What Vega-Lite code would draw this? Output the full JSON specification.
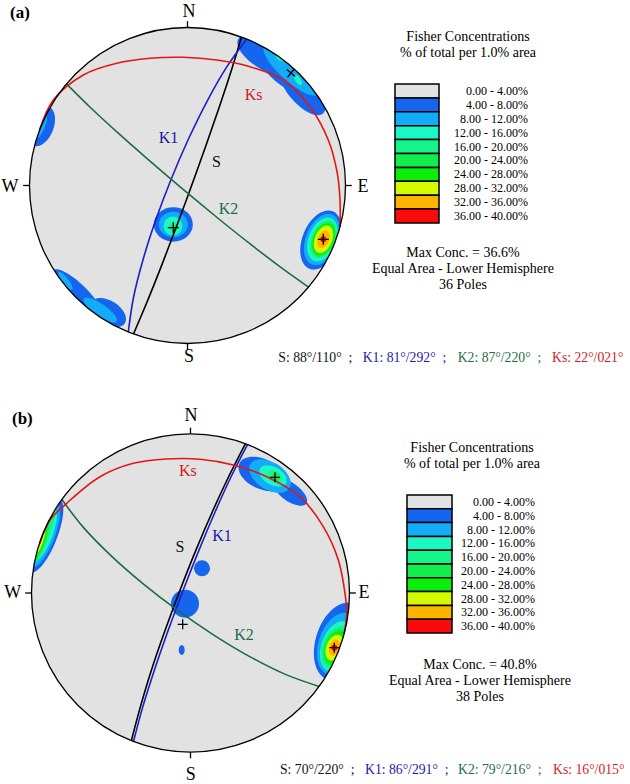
{
"$schema": "https://vega.github.io/schema/vega-lite/v6.json",
"padding": 0,
"spacing": 0,
"bounds": "flush",
"config": {"view": {"stroke": null}, "font": "Liberation Serif"},
"resolve": {"scale": {"x": "independent", "y": "independent", "fill": "independent", "stroke": "independent", "color": "independent", "size": "independent", "shape": "independent"}},
"datasets": {
"levels": [
{"lv":"0.00 - 4.00%"},{"lv":"4.00 - 8.00%"},{"lv":"8.00 - 12.00%"},{"lv":"12.00 - 16.00%"},{"lv":"16.00 - 20.00%"},
{"lv":"20.00 - 24.00%"},{"lv":"24.00 - 28.00%"},{"lv":"28.00 - 32.00%"},{"lv":"32.00 - 36.00%"},{"lv":"36.00 - 40.00%"}
],
"blobs": [
{"net":"a","lv":"4.00 - 8.00%","u":0.4954,"v":0.8246,"len":0.405,"f":"e2","ang":31},
{"net":"a","lv":"4.00 - 8.00%","u":0.6103,"v":0.7272,"len":0.38,"f":"e2","ang":40},
{"net":"a","lv":"4.00 - 8.00%","u":0.7273,"v":0.6103,"len":0.405,"f":"e2","ang":50},
{"net":"a","lv":"4.00 - 8.00%","u":-0.9272,"v":0.3746,"len":0.266,"f":"e","ang":112},
{"net":"a","lv":"4.00 - 8.00%","u":-0.6937,"v":-0.6937,"len":0.443,"f":"e3","ang":45},
{"net":"a","lv":"4.00 - 8.00%","u":-0.5031,"v":-0.8051,"len":0.253,"f":"e","ang":32},
{"net":"a","lv":"4.00 - 8.00%","u":-0.0899,"v":-0.2468,"len":0.247,"f":"e9","ang":0},
{"net":"a","lv":"4.00 - 8.00%","u":0.8449,"v":-0.3449,"len":0.392,"f":"e","ang":112},
{"net":"b","lv":"4.00 - 8.00%","u":0.4497,"v":0.7484,"len":0.314,"f":"e","ang":25},
{"net":"b","lv":"4.00 - 8.00%","u":0.6258,"v":0.6352,"len":0.252,"f":"e2","ang":35},
{"net":"b","lv":"4.00 - 8.00%","u":-0.9128,"v":0.3596,"len":0.491,"f":"e3","ang":111.5},
{"net":"b","lv":"4.00 - 8.00%","u":0.0723,"v":0.1553,"len":0.101,"f":"c","ang":0},
{"net":"b","lv":"4.00 - 8.00%","u":-0.0346,"v":-0.0673,"len":0.176,"f":"c","ang":0},
{"net":"b","lv":"4.00 - 8.00%","u":-0.0553,"v":-0.3585,"len":0.063,"f":"e","ang":90},
{"net":"b","lv":"4.00 - 8.00%","u":0.9391,"v":-0.3051,"len":0.503,"f":"e","ang":108},
{"net":"a","lv":"8.00 - 12.00%","u":0.6564,"v":0.729,"len":0.456,"f":"e3","ang":42},
{"net":"a","lv":"8.00 - 12.00%","u":-0.9272,"v":0.3746,"len":0.165,"f":"e3","ang":112},
{"net":"a","lv":"8.00 - 12.00%","u":-0.5518,"v":-0.7881,"len":0.253,"f":"e3","ang":35},
{"net":"a","lv":"8.00 - 12.00%","u":-0.773,"v":-0.604,"len":0.139,"f":"e3","ang":52},
{"net":"a","lv":"8.00 - 12.00%","u":-0.0899,"v":-0.2468,"len":0.184,"f":"e9","ang":0},
{"net":"a","lv":"8.00 - 12.00%","u":0.8513,"v":-0.3418,"len":0.342,"f":"e","ang":112},
{"net":"b","lv":"8.00 - 12.00%","u":0.5,"v":0.7358,"len":0.289,"f":"e","ang":32},
{"net":"b","lv":"8.00 - 12.00%","u":-0.9187,"v":0.3619,"len":0.428,"f":"e3","ang":111.5},
{"net":"b","lv":"8.00 - 12.00%","u":0.9277,"v":-0.3194,"len":0.403,"f":"e","ang":109},
{"net":"a","lv":"12.00 - 16.00%","u":0.5854,"v":0.807,"len":0.063,"f":"e2","ang":35},
{"net":"a","lv":"12.00 - 16.00%","u":0.6994,"v":0.6677,"len":0.076,"f":"e2","ang":55},
{"net":"a","lv":"12.00 - 16.00%","u":-0.0918,"v":-0.2563,"len":0.12,"f":"c","ang":0},
{"net":"a","lv":"12.00 - 16.00%","u":0.8544,"v":-0.3418,"len":0.291,"f":"e","ang":112},
{"net":"b","lv":"12.00 - 16.00%","u":0.5189,"v":0.7358,"len":0.189,"f":"e","ang":30},
{"net":"b","lv":"12.00 - 16.00%","u":-0.9246,"v":0.3642,"len":0.365,"f":"e3","ang":111.5},
{"net":"b","lv":"12.00 - 16.00%","u":0.922,"v":-0.3356,"len":0.327,"f":"e","ang":110},
{"net":"a","lv":"16.00 - 20.00%","u":-0.0886,"v":-0.2627,"len":0.057,"f":"c","ang":0},
{"net":"a","lv":"16.00 - 20.00%","u":0.8608,"v":-0.3405,"len":0.253,"f":"e","ang":112},
{"net":"b","lv":"16.00 - 20.00%","u":0.5314,"v":0.7358,"len":0.101,"f":"e","ang":30},
{"net":"b","lv":"16.00 - 20.00%","u":-0.9187,"v":0.3619,"len":0.314,"f":"e4","ang":111.5},
{"net":"b","lv":"16.00 - 20.00%","u":0.9131,"v":-0.3414,"len":0.277,"f":"e","ang":110.5},
{"net":"a","lv":"20.00 - 24.00%","u":0.8608,"v":-0.3405,"len":0.228,"f":"e","ang":112},
{"net":"b","lv":"20.00 - 24.00%","u":0.5377,"v":0.7296,"len":0.05,"f":"c","ang":0},
{"net":"b","lv":"20.00 - 24.00%","u":-0.9395,"v":0.3235,"len":0.277,"f":"e4","ang":109},
{"net":"b","lv":"20.00 - 24.00%","u":0.9131,"v":-0.3414,"len":0.239,"f":"e","ang":110.5},
{"net":"a","lv":"24.00 - 28.00%","u":0.8608,"v":-0.3405,"len":0.209,"f":"e","ang":112},
{"net":"b","lv":"24.00 - 28.00%","u":-0.9455,"v":0.3256,"len":0.239,"f":"e4","ang":109},
{"net":"b","lv":"24.00 - 28.00%","u":0.9131,"v":-0.3414,"len":0.208,"f":"e","ang":110.5},
{"net":"a","lv":"28.00 - 32.00%","u":0.8608,"v":-0.3405,"len":0.184,"f":"e","ang":112},
{"net":"b","lv":"28.00 - 32.00%","u":-0.9455,"v":0.3256,"len":0.176,"f":"e4","ang":109},
{"net":"b","lv":"28.00 - 32.00%","u":0.9049,"v":-0.3437,"len":0.17,"f":"e","ang":110.8},
{"net":"a","lv":"32.00 - 36.00%","u":0.8608,"v":-0.3405,"len":0.12,"f":"e","ang":112},
{"net":"b","lv":"32.00 - 36.00%","u":-0.9515,"v":0.3277,"len":0.126,"f":"e4","ang":109},
{"net":"b","lv":"32.00 - 36.00%","u":0.9049,"v":-0.3437,"len":0.107,"f":"e","ang":110.8},
{"net":"a","lv":"36.00 - 40.00%","u":0.8595,"v":-0.3405,"len":0.038,"f":"c","ang":0},
{"net":"b","lv":"36.00 - 40.00%","u":-0.9515,"v":0.3277,"len":0.075,"f":"e4","ang":109},
{"net":"b","lv":"36.00 - 40.00%","u":0.9049,"v":-0.3437,"len":0.038,"f":"c","ang":0}
],
"gc": [
{"net":"a","pl":"S","p":0,"u":0.342,"v":0.94},
{"net":"a","pl":"S","p":1,"u":0.2794,"v":0.7345},
{"net":"a","pl":"S","p":2,"u":0.2029,"v":0.5022},
{"net":"a","pl":"S","p":3,"u":0.1162,"v":0.2514},
{"net":"a","pl":"S","p":4,"u":0.0232,"v":-0.0084},
{"net":"a","pl":"S","p":5,"u":-0.0725,"v":-0.2672},
{"net":"a","pl":"S","p":6,"u":-0.1673,"v":-0.5151},
{"net":"a","pl":"S","p":7,"u":-0.2581,"v":-0.7423},
{"net":"a","pl":"S","p":8,"u":-0.342,"v":-0.94},
{"net":"a","pl":"K1","p":0,"u":-0.3746,"v":-0.9272},
{"net":"a","pl":"K1","p":1,"u":-0.3421,"v":-0.7106},
{"net":"a","pl":"K1","p":2,"u":-0.2819,"v":-0.4713},
{"net":"a","pl":"K1","p":3,"u":-0.2006,"v":-0.2174},
{"net":"a","pl":"K1","p":4,"u":-0.1028,"v":0.0416},
{"net":"a","pl":"K1","p":5,"u":0.0068,"v":0.2957},
{"net":"a","pl":"K1","p":6,"u":0.1246,"v":0.5348},
{"net":"a","pl":"K1","p":7,"u":0.2476,"v":0.7488},
{"net":"a","pl":"K1","p":8,"u":0.3746,"v":0.9272},
{"net":"a","pl":"K2","p":0,"u":0.766,"v":-0.6428},
{"net":"a","pl":"K2","p":1,"u":0.591,"v":-0.5182},
{"net":"a","pl":"K2","p":2,"u":0.3964,"v":-0.3697},
{"net":"a","pl":"K2","p":3,"u":0.189,"v":-0.2041},
{"net":"a","pl":"K2","p":4,"u":-0.0238,"v":-0.0284},
{"net":"a","pl":"K2","p":5,"u":-0.2337,"v":0.1507},
{"net":"a","pl":"K2","p":6,"u":-0.4329,"v":0.3262},
{"net":"a","pl":"K2","p":7,"u":-0.6129,"v":0.4921},
{"net":"a","pl":"K2","p":8,"u":-0.766,"v":0.6428},
{"net":"a","pl":"Ks","p":0,"u":-0.9375,"v":0.3488},
{"net":"a","pl":"Ks","p":1,"u":-0.8494,"v":0.5411},
{"net":"a","pl":"Ks","p":2,"u":-0.6595,"v":0.6994},
{"net":"a","pl":"Ks","p":3,"u":-0.4481,"v":0.7734},
{"net":"a","pl":"Ks","p":4,"u":-0.2373,"v":0.8051},
{"net":"a","pl":"Ks","p":5,"u":-0.0266,"v":0.8114},
{"net":"a","pl":"Ks","p":6,"u":0.1848,"v":0.7943},
{"net":"a","pl":"Ks","p":7,"u":0.3956,"v":0.7519},
{"net":"a","pl":"Ks","p":8,"u":0.6063,"v":0.6677},
{"net":"a","pl":"Ks","p":9,"u":0.7753,"v":0.4987},
{"net":"a","pl":"Ks","p":10,"u":0.8911,"v":0.288},
{"net":"a","pl":"Ks","p":11,"u":0.9481,"v":0.0772},
{"net":"a","pl":"Ks","p":12,"u":0.9652,"v":-0.0918},
{"net":"a","pl":"Ks","p":13,"u":0.9655,"v":-0.2608},
{"net":"b","pl":"S","p":0,"u":-0.372,"v":-0.929},
{"net":"b","pl":"S","p":1,"u":-0.318,"v":-0.7256},
{"net":"b","pl":"S","p":2,"u":-0.248,"v":-0.492},
{"net":"b","pl":"S","p":3,"u":-0.162,"v":-0.2411},
{"net":"b","pl":"S","p":4,"u":-0.066,"v":0.0177},
{"net":"b","pl":"S","p":5,"u":0.036,"v":0.2744},
{"net":"b","pl":"S","p":6,"u":0.141,"v":0.5191},
{"net":"b","pl":"S","p":7,"u":0.245,"v":0.742},
{"net":"b","pl":"S","p":8,"u":0.345,"v":0.9386},
{"net":"b","pl":"K1","p":0,"u":-0.3584,"v":-0.9336},
{"net":"b","pl":"K1","p":1,"u":-0.3029,"v":-0.7256},
{"net":"b","pl":"K1","p":2,"u":-0.2293,"v":-0.492},
{"net":"b","pl":"K1","p":3,"u":-0.1424,"v":-0.2411},
{"net":"b","pl":"K1","p":4,"u":-0.0461,"v":0.0177},
{"net":"b","pl":"K1","p":5,"u":0.0555,"v":0.2744},
{"net":"b","pl":"K1","p":6,"u":0.1587,"v":0.5191},
{"net":"b","pl":"K1","p":7,"u":0.2604,"v":0.742},
{"net":"b","pl":"K1","p":8,"u":0.3584,"v":0.9336},
{"net":"b","pl":"K2","p":0,"u":0.809,"v":-0.5878},
{"net":"b","pl":"K2","p":1,"u":0.6006,"v":-0.5134},
{"net":"b","pl":"K2","p":2,"u":0.3785,"v":-0.4032},
{"net":"b","pl":"K2","p":3,"u":0.1491,"v":-0.2661},
{"net":"b","pl":"K2","p":4,"u":-0.0797,"v":-0.1097},
{"net":"b","pl":"K2","p":5,"u":-0.2993,"v":0.0596},
{"net":"b","pl":"K2","p":6,"u":-0.5004,"v":0.2354},
{"net":"b","pl":"K2","p":7,"u":-0.6738,"v":0.4127},
{"net":"b","pl":"K2","p":8,"u":-0.809,"v":0.5878},
{"net":"b","pl":"Ks","p":0,"u":-0.9507,"v":0.3105},
{"net":"b","pl":"Ks","p":1,"u":-0.8836,"v":0.4591},
{"net":"b","pl":"Ks","p":2,"u":-0.7786,"v":0.5642},
{"net":"b","pl":"Ks","p":3,"u":-0.5692,"v":0.7314},
{"net":"b","pl":"Ks","p":4,"u":-0.3597,"v":0.8157},
{"net":"b","pl":"Ks","p":5,"u":-0.1497,"v":0.8428},
{"net":"b","pl":"Ks","p":6,"u":0.0597,"v":0.8409},
{"net":"b","pl":"Ks","p":7,"u":0.2692,"v":0.805},
{"net":"b","pl":"Ks","p":8,"u":0.4792,"v":0.7314},
{"net":"b","pl":"Ks","p":9,"u":0.6887,"v":0.6057},
{"net":"b","pl":"Ks","p":10,"u":0.8352,"v":0.417},
{"net":"b","pl":"Ks","p":11,"u":0.9296,"v":0.2075},
{"net":"b","pl":"Ks","p":12,"u":0.9717,"v":-0.0019},
{"net":"b","pl":"Ks","p":13,"u":0.9824,"v":-0.1277},
{"net":"b","pl":"Ks","p":14,"u":0.9659,"v":-0.2588}
],
"ticks": [
{"net":"a","u":0,"v":1,"u2":0,"v2":1.04},
{"net":"a","u":0,"v":-1,"u2":0,"v2":-1.04},
{"net":"a","u":1,"v":0,"u2":1.04,"v2":0},
{"net":"a","u":-1,"v":0,"u2":-1.04,"v2":0},
{"net":"b","u":0,"v":1,"u2":0,"v2":1.04},
{"net":"b","u":0,"v":-1,"u2":0,"v2":-1.04},
{"net":"b","u":1,"v":0,"u2":1.04,"v2":0},
{"net":"b","u":-1,"v":0,"u2":-1.04,"v2":0}
],
"crosses": [
{"net":"a","u":0.6551,"v":0.712,"ang":40},
{"net":"a","u":-0.0899,"v":-0.2671,"ang":0},
{"net":"a","u":0.8595,"v":-0.3405,"ang":0},
{"net":"b","u":0.5314,"v":0.7277,"ang":0},
{"net":"b","u":-0.0491,"v":-0.1969,"ang":0},
{"net":"b","u":0.9044,"v":-0.344,"ang":0}
],
"labels": [
{"net":"a","k":"dir","t":"N","u":0.01,"v":1.098,"c":"k"},
{"net":"a","k":"dir","t":"S","u":0.01,"v":-1.085,"c":"k"},
{"net":"a","k":"dir","t":"W","u":-1.123,"v":-0.01,"c":"k"},
{"net":"a","k":"dir","t":"E","u":1.111,"v":-0.01,"c":"k"},
{"net":"b","k":"dir","t":"N","u":0.003,"v":1.113,"c":"k"},
{"net":"b","k":"dir","t":"S","u":0.001,"v":-1.145,"c":"k"},
{"net":"b","k":"dir","t":"W","u":-1.118,"v":0,"c":"k"},
{"net":"b","k":"dir","t":"E","u":1.091,"v":0,"c":"k"},
{"net":"a","k":"gc","t":"Ks","u":0.418,"v":0.573,"c":"Ks"},
{"net":"a","k":"gc","t":"K1","u":-0.12,"v":0.301,"c":"K1"},
{"net":"a","k":"gc","t":"S","u":0.184,"v":0.149,"c":"S"},
{"net":"a","k":"gc","t":"K2","u":0.259,"v":-0.149,"c":"K2"},
{"net":"b","k":"gc","t":"Ks","u":-0.016,"v":0.767,"c":"Ks"},
{"net":"b","k":"gc","t":"K1","u":0.198,"v":0.358,"c":"K1"},
{"net":"b","k":"gc","t":"S","u":-0.066,"v":0.289,"c":"S"},
{"net":"b","k":"gc","t":"K2","u":0.336,"v":-0.264,"c":"K2"},
{"net":"a","k":"tag","t":"(a)","u":-1.1234,"v":1.0918,"c":"k"},
{"net":"b","k":"tag","t":"(b)","u":-1.1226,"v":1.0943,"c":"k"},
{"net":"a","k":"cap","t":"S: 88°/110°\u00a0\u00a0;","u":0.5747,"v":-1.0918,"c":"S"},
{"net":"a","k":"cap","t":"K1: 81°/292°\u00a0\u00a0;","u":1.1089,"v":-1.0918,"c":"K1"},
{"net":"a","k":"cap","t":"K2: 87°/220°\u00a0\u00a0;","u":1.7101,"v":-1.0918,"c":"K2"},
{"net":"a","k":"cap","t":"Ks: 22°/021°","u":2.307,"v":-1.0918,"c":"Ks"},
{"net":"b","k":"cap","t":"S: 70°/220°\u00a0\u00a0;","u":0.5629,"v":-1.1132,"c":"S"},
{"net":"b","k":"cap","t":"K1: 86°/291°\u00a0\u00a0;","u":1.0975,"v":-1.1132,"c":"K1"},
{"net":"b","k":"cap","t":"K2: 79°/216°\u00a0\u00a0;","u":1.6824,"v":-1.1132,"c":"K2"},
{"net":"b","k":"cap","t":"Ks: 16°/015°","u":2.2799,"v":-1.1132,"c":"Ks"},
{"net":"a","k":"blk","t":"Fisher Concentrations\n% of total per 1.0% area","u":1.7753,"v":0.9399,"c":"k"},
{"net":"a","k":"blk","t":"Max Conc. = 36.6%\nEqual Area - Lower Hemisphere\n36 Poles","u":1.7437,"v":-0.4272,"c":"k"},
{"net":"b","k":"blk","t":"Fisher Concentrations\n% of total per 1.0% area","u":1.7704,"v":0.9119,"c":"k"},
{"net":"b","k":"blk","t":"Max Conc. = 40.8%\nEqual Area - Lower Hemisphere\n38 Poles","u":1.8208,"v":-0.4528,"c":"k"}
]
},
"vconcat": [
{
"width": 630, "height": 392,
"resolve": {"scale": {"y": "independent"}},
"layer": [
{
"encoding": {
"x": {"field": "u", "type": "quantitative", "scale": {"domain": [-1.18671, 2.80063], "nice": false, "zero": false}, "axis": null},
"y": {"field": "v", "type": "quantitative", "scale": {"domain": [-1.30696, 1.17405], "nice": false, "zero": false}, "axis": null}
},
"layer": [
{"data": {"values": [{"u": 0, "v": 0}]}, "mark": {"type": "point", "shape": "circle", "filled": true, "color": "#e2e2e2", "opacity": 1},
 "encoding": {"size": {"datum": 2, "type": "quantitative", "scale": {"type": "pow", "exponent": 2, "domain": [0, 2], "range": [0, 99856]}, "legend": null}}},
{"data": {"name": "blobs"}, "transform": [{"filter": "datum.net === 'a'"}], "mark": {"type": "point", "filled": true, "opacity": 1},
 "encoding": {
  "size": {"field": "len", "type": "quantitative", "scale": {"type": "pow", "exponent": 2, "domain": [0, 2], "range": [0, 99856]}, "legend": null},
  "shape": {"field": "f", "type": "nominal", "scale": {"domain": ["c", "e", "e2", "e3", "e4", "e9"], "range": ["circle", "M-1,0C-1,-0.331,-0.552,-0.6,0,-0.6C0.552,-0.6,1,-0.331,1,0C1,0.331,0.552,0.6,0,0.6C-0.552,0.6,-1,0.331,-1,0Z", "M-1,0C-1,-0.249,-0.552,-0.45,0,-0.45C0.552,-0.45,1,-0.249,1,0C1,0.249,0.552,0.45,0,0.45C-0.552,0.45,-1,0.249,-1,0Z", "M-1,0C-1,-0.166,-0.552,-0.3,0,-0.3C0.552,-0.3,1,-0.166,1,0C1,0.166,0.552,0.3,0,0.3C-0.552,0.3,-1,0.166,-1,0Z", "M-1,0C-1,-0.11,-0.552,-0.2,0,-0.2C0.552,-0.2,1,-0.11,1,0C1,0.11,0.552,0.2,0,0.2C-0.552,0.2,-1,0.11,-1,0Z", "M-1,0C-1,-0.486,-0.552,-0.88,0,-0.88C0.552,-0.88,1,-0.486,1,0C1,0.486,0.552,0.88,0,0.88C-0.552,0.88,-1,0.486,-1,0Z"]}, "legend": null},
  "angle": {"field": "ang", "type": "quantitative", "scale": null},
  "fill": {"field": "lv", "type": "nominal",
   "scale": {"domain": ["0.00 - 4.00%", "4.00 - 8.00%", "8.00 - 12.00%", "12.00 - 16.00%", "16.00 - 20.00%", "20.00 - 24.00%", "24.00 - 28.00%", "28.00 - 32.00%", "32.00 - 36.00%", "36.00 - 40.00%"],
             "range": ["#e2e2e2", "#1565ee", "#12acf8", "#1cf7c4", "#14f58c", "#12ee4e", "#0aee0a", "#d4fa00", "#ffb400", "#fa0a0a"]},
   "legend": null}
 }},
{"data": {"values": [{"u": 0, "v": 0}]}, "mark": {"type": "point", "shape": "circle", "filled": false, "stroke": "white", "strokeWidth": 26, "opacity": 1, "clip": true},
 "encoding": {"size": {"datum": 2.1646, "type": "quantitative", "scale": {"type": "pow", "exponent": 2, "domain": [0, 2], "range": [0, 99856]}, "legend": null}}},
{"data": {"name": "gc"}, "transform": [{"filter": "datum.net === 'a'"}], "mark": {"type": "line", "strokeWidth": 1.6, "interpolate": "catmull-rom"},
 "encoding": {"order": {"field": "p", "type": "quantitative"}, "stroke": {"field": "pl", "type": "nominal", "scale": {"domain": ["S", "K1", "K2", "Ks"], "range": ["#000000", "#1e1ec8", "#1f6b45", "#e01818"]}, "legend": null}}},
{"data": {"values": [{"u": 0, "v": 0}]}, "mark": {"type": "point", "shape": "circle", "filled": false, "stroke": "black", "strokeWidth": 1.3, "opacity": 1},
 "encoding": {"size": {"datum": 2, "type": "quantitative", "scale": {"type": "pow", "exponent": 2, "domain": [0, 2], "range": [0, 99856]}, "legend": null}}},
{"data": {"name": "ticks"}, "transform": [{"filter": "datum.net === 'a'"}], "mark": {"type": "rule", "color": "black", "strokeWidth": 1.3},
 "encoding": {"x2": {"field": "u2"}, "y2": {"field": "v2"}}},
{"data": {"name": "crosses"}, "transform": [{"filter": "datum.net === 'a'"}], "mark": {"type": "point", "shape": "M-1,0H1M0,-1V1", "filled": false, "stroke": "black", "strokeWidth": 1.3, "size": 121, "opacity": 1},
 "encoding": {"angle": {"field": "ang", "type": "quantitative", "scale": null}}},
{"data": {"name": "labels"}, "transform": [{"filter": "datum.net === 'a' && datum.k === 'dir'"}], "mark": {"type": "text", "fontSize": 18, "align": "center", "baseline": "middle", "color": "black"},
 "encoding": {"text": {"field": "t"}}},
{"data": {"name": "labels"}, "transform": [{"filter": "datum.net === 'a' && datum.k === 'gc'"}], "mark": {"type": "text", "fontSize": 16, "align": "center", "baseline": "middle"},
 "encoding": {"text": {"field": "t"}, "color": {"field": "c", "type": "nominal", "scale": {"domain": ["k", "S", "K1", "K2", "Ks"], "range": ["#000000", "#111111", "#1a1aa8", "#1f6e48", "#d01c28"]}, "legend": null}}},
{"data": {"name": "labels"}, "transform": [{"filter": "datum.net === 'a' && datum.k === 'tag'"}], "mark": {"type": "text", "fontSize": 17, "fontWeight": "bold", "align": "left", "baseline": "middle", "color": "black"},
 "encoding": {"text": {"field": "t"}}},
{"data": {"name": "labels"}, "transform": [{"filter": "datum.net === 'a' && datum.k === 'cap'"}], "mark": {"type": "text", "fontSize": 13.7, "align": "left", "baseline": "middle"},
 "encoding": {"text": {"field": "t"}, "color": {"field": "c", "type": "nominal", "scale": {"domain": ["k", "S", "K1", "K2", "Ks"], "range": ["#000000", "#111111", "#1a1aa8", "#1f6e48", "#d01c28"]}, "legend": null}}},
{"data": {"name": "labels"}, "transform": [{"filter": "datum.net === 'a' && datum.k === 'blk'"}], "mark": {"type": "text", "fontSize": 14, "lineBreak": "\n", "lineHeight": 15.8, "align": "center", "baseline": "middle", "color": "black"},
 "encoding": {"text": {"field": "t"}}}
]
},
{
"data": {"name": "levels"},
"encoding": {"y": {"field": "lv", "type": "nominal", "sort": null, "scale": {"type": "band", "domain": ["0.00 - 4.00%", "4.00 - 8.00%", "8.00 - 12.00%", "12.00 - 16.00%", "16.00 - 20.00%", "20.00 - 24.00%", "24.00 - 28.00%", "28.00 - 32.00%", "32.00 - 36.00%", "36.00 - 40.00%"], "range": [84, 223], "paddingInner": 0, "paddingOuter": 0}, "axis": null}},
"layer": [
{"mark": {"type": "rect", "stroke": "black", "strokeWidth": 1.5},
 "encoding": {"x": {"datum": 1.3133, "type": "quantitative"}, "x2": {"datum": 1.5918},
  "fill": {"field": "lv", "type": "nominal", "scale": {"domain": ["0.00 - 4.00%", "4.00 - 8.00%", "8.00 - 12.00%", "12.00 - 16.00%", "16.00 - 20.00%", "20.00 - 24.00%", "24.00 - 28.00%", "28.00 - 32.00%", "32.00 - 36.00%", "36.00 - 40.00%"], "range": ["#e2e2e2", "#1565ee", "#12acf8", "#1cf7c4", "#14f58c", "#12ee4e", "#0aee0a", "#d4fa00", "#ffb400", "#fa0a0a"]}, "legend": null}}},
{"mark": {"type": "text", "align": "right", "baseline": "middle", "fontSize": 12, "color": "black"},
 "encoding": {"x": {"datum": 2.1551, "type": "quantitative"}, "text": {"field": "lv"}}}
]
}
]
},
{
"width": 630, "height": 392,
"resolve": {"scale": {"y": "independent"}},
"layer": [
{
"encoding": {
"x": {"field": "u", "type": "quantitative", "scale": {"domain": [-1.19811, 2.76415], "nice": false, "zero": false}, "axis": null},
"y": {"field": "v", "type": "quantitative", "scale": {"domain": [-1.20126, 1.26415], "nice": false, "zero": false}, "axis": null}
},
"layer": [
{"data": {"values": [{"u": 0, "v": 0}]}, "mark": {"type": "point", "shape": "circle", "filled": true, "color": "#e2e2e2", "opacity": 1},
 "encoding": {"size": {"datum": 2, "type": "quantitative", "scale": {"type": "pow", "exponent": 2, "domain": [0, 2], "range": [0, 101124]}, "legend": null}}},
{"data": {"name": "blobs"}, "transform": [{"filter": "datum.net === 'b'"}], "mark": {"type": "point", "filled": true, "opacity": 1},
 "encoding": {
  "size": {"field": "len", "type": "quantitative", "scale": {"type": "pow", "exponent": 2, "domain": [0, 2], "range": [0, 101124]}, "legend": null},
  "shape": {"field": "f", "type": "nominal", "scale": {"domain": ["c", "e", "e2", "e3", "e4", "e9"], "range": ["circle", "M-1,0C-1,-0.331,-0.552,-0.6,0,-0.6C0.552,-0.6,1,-0.331,1,0C1,0.331,0.552,0.6,0,0.6C-0.552,0.6,-1,0.331,-1,0Z", "M-1,0C-1,-0.249,-0.552,-0.45,0,-0.45C0.552,-0.45,1,-0.249,1,0C1,0.249,0.552,0.45,0,0.45C-0.552,0.45,-1,0.249,-1,0Z", "M-1,0C-1,-0.166,-0.552,-0.3,0,-0.3C0.552,-0.3,1,-0.166,1,0C1,0.166,0.552,0.3,0,0.3C-0.552,0.3,-1,0.166,-1,0Z", "M-1,0C-1,-0.11,-0.552,-0.2,0,-0.2C0.552,-0.2,1,-0.11,1,0C1,0.11,0.552,0.2,0,0.2C-0.552,0.2,-1,0.11,-1,0Z", "M-1,0C-1,-0.486,-0.552,-0.88,0,-0.88C0.552,-0.88,1,-0.486,1,0C1,0.486,0.552,0.88,0,0.88C-0.552,0.88,-1,0.486,-1,0Z"]}, "legend": null},
  "angle": {"field": "ang", "type": "quantitative", "scale": null},
  "fill": {"field": "lv", "type": "nominal",
   "scale": {"domain": ["0.00 - 4.00%", "4.00 - 8.00%", "8.00 - 12.00%", "12.00 - 16.00%", "16.00 - 20.00%", "20.00 - 24.00%", "24.00 - 28.00%", "28.00 - 32.00%", "32.00 - 36.00%", "36.00 - 40.00%"],
             "range": ["#e2e2e2", "#1565ee", "#12acf8", "#1cf7c4", "#14f58c", "#12ee4e", "#0aee0a", "#d4fa00", "#ffb400", "#fa0a0a"]},
   "legend": null}
 }},
{"data": {"values": [{"u": 0, "v": 0}]}, "mark": {"type": "point", "shape": "circle", "filled": false, "stroke": "white", "strokeWidth": 26, "opacity": 1, "clip": true},
 "encoding": {"size": {"datum": 2.1635, "type": "quantitative", "scale": {"type": "pow", "exponent": 2, "domain": [0, 2], "range": [0, 101124]}, "legend": null}}},
{"data": {"name": "gc"}, "transform": [{"filter": "datum.net === 'b'"}], "mark": {"type": "line", "strokeWidth": 1.6, "interpolate": "catmull-rom"},
 "encoding": {"order": {"field": "p", "type": "quantitative"}, "stroke": {"field": "pl", "type": "nominal", "scale": {"domain": ["S", "K1", "K2", "Ks"], "range": ["#000000", "#1e1ec8", "#1f6b45", "#e01818"]}, "legend": null}}},
{"data": {"values": [{"u": 0, "v": 0}]}, "mark": {"type": "point", "shape": "circle", "filled": false, "stroke": "black", "strokeWidth": 1.3, "opacity": 1},
 "encoding": {"size": {"datum": 2, "type": "quantitative", "scale": {"type": "pow", "exponent": 2, "domain": [0, 2], "range": [0, 101124]}, "legend": null}}},
{"data": {"name": "ticks"}, "transform": [{"filter": "datum.net === 'b'"}], "mark": {"type": "rule", "color": "black", "strokeWidth": 1.3},
 "encoding": {"x2": {"field": "u2"}, "y2": {"field": "v2"}}},
{"data": {"name": "crosses"}, "transform": [{"filter": "datum.net === 'b'"}], "mark": {"type": "point", "shape": "M-1,0H1M0,-1V1", "filled": false, "stroke": "black", "strokeWidth": 1.3, "size": 100, "opacity": 1},
 "encoding": {"angle": {"field": "ang", "type": "quantitative", "scale": null}}},
{"data": {"name": "labels"}, "transform": [{"filter": "datum.net === 'b' && datum.k === 'dir'"}], "mark": {"type": "text", "fontSize": 18, "align": "center", "baseline": "middle", "color": "black"},
 "encoding": {"text": {"field": "t"}}},
{"data": {"name": "labels"}, "transform": [{"filter": "datum.net === 'b' && datum.k === 'gc'"}], "mark": {"type": "text", "fontSize": 16, "align": "center", "baseline": "middle"},
 "encoding": {"text": {"field": "t"}, "color": {"field": "c", "type": "nominal", "scale": {"domain": ["k", "S", "K1", "K2", "Ks"], "range": ["#000000", "#111111", "#1a1aa8", "#1f6e48", "#d01c28"]}, "legend": null}}},
{"data": {"name": "labels"}, "transform": [{"filter": "datum.net === 'b' && datum.k === 'tag'"}], "mark": {"type": "text", "fontSize": 17, "fontWeight": "bold", "align": "left", "baseline": "middle", "color": "black"},
 "encoding": {"text": {"field": "t"}}},
{"data": {"name": "labels"}, "transform": [{"filter": "datum.net === 'b' && datum.k === 'cap'"}], "mark": {"type": "text", "fontSize": 13.7, "align": "left", "baseline": "middle"},
 "encoding": {"text": {"field": "t"}, "color": {"field": "c", "type": "nominal", "scale": {"domain": ["k", "S", "K1", "K2", "Ks"], "range": ["#000000", "#111111", "#1a1aa8", "#1f6e48", "#d01c28"]}, "legend": null}}},
{"data": {"name": "labels"}, "transform": [{"filter": "datum.net === 'b' && datum.k === 'blk'"}], "mark": {"type": "text", "fontSize": 14, "lineBreak": "\n", "lineHeight": 15.8, "align": "center", "baseline": "middle", "color": "black"},
 "encoding": {"text": {"field": "t"}}}
]
},
{
"data": {"name": "levels"},
"encoding": {"y": {"field": "lv", "type": "nominal", "sort": null, "scale": {"type": "band", "domain": ["0.00 - 4.00%", "4.00 - 8.00%", "8.00 - 12.00%", "12.00 - 16.00%", "16.00 - 20.00%", "20.00 - 24.00%", "24.00 - 28.00%", "28.00 - 32.00%", "32.00 - 36.00%", "36.00 - 40.00%"], "range": [103, 241], "paddingInner": 0, "paddingOuter": 0}, "axis": null}},
"layer": [
{"mark": {"type": "rect", "stroke": "black", "strokeWidth": 1.5},
 "encoding": {"x": {"datum": 1.3616, "type": "quantitative"}, "x2": {"datum": 1.6447},
  "fill": {"field": "lv", "type": "nominal", "scale": {"domain": ["0.00 - 4.00%", "4.00 - 8.00%", "8.00 - 12.00%", "12.00 - 16.00%", "16.00 - 20.00%", "20.00 - 24.00%", "24.00 - 28.00%", "28.00 - 32.00%", "32.00 - 36.00%", "36.00 - 40.00%"], "range": ["#e2e2e2", "#1565ee", "#12acf8", "#1cf7c4", "#14f58c", "#12ee4e", "#0aee0a", "#d4fa00", "#ffb400", "#fa0a0a"]}, "legend": null}}},
{"mark": {"type": "text", "align": "right", "baseline": "middle", "fontSize": 12, "color": "black"},
 "encoding": {"x": {"datum": 2.1667, "type": "quantitative"}, "text": {"field": "lv"}}}
]
}
]
}
]
}
